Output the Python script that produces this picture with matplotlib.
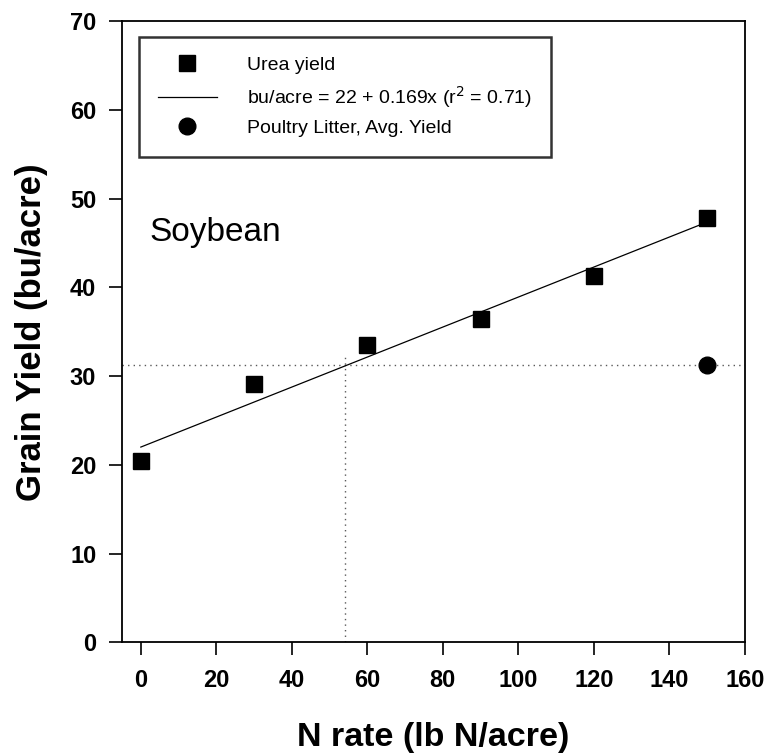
import matplotlib.pyplot as plt
import numpy as np

# dados
n_rate = [0, 30, 60, 90, 120, 150]
urea_yield = [20.4, 29.1, 33.5, 36.4, 41.3, 47.8]
litter_rate = [150]
litter_yield = [31.3]
a, b = 22, 0.169
equiv_rate = 54

plt.rcParams['font.family'] = ['Liberation Sans', 'DejaVu Sans']

fig = plt.figure(figsize=(7.67, 7.53), dpi=100)
ax = fig.add_axes([0.159, 0.147, 0.812, 0.825])

# linhas de referência pontilhadas
ax.axhline(litter_yield[0], color='0.35', lw=1, ls=(0, (1, 3)), zorder=1)
ax.plot([equiv_rate, equiv_rate], [0, litter_yield[0] + 0.8], color='0.35', lw=1, ls=(0, (1, 3)), zorder=1)

# regressão
xr = np.array([n_rate[0], n_rate[-1]])
ax.plot(n_rate, urea_yield, 's', color='black', ms=11, label='Urea yield', zorder=3)
ax.plot(xr, a + b * xr, '-', color='black', lw=0.9, label='bu/acre = 22 + 0.169x (r$^2$ = 0.71)', zorder=2)
ax.plot(litter_rate, litter_yield, 'o', color='black', ms=12, label='Poultry Litter, Avg. Yield', zorder=3)

ax.text(2.3, 46.2, 'Soybean', fontsize=24, va='center', ha='left')

ax.set_xlim(-5, 160)
ax.set_ylim(0, 70)
ax.set_xticks(np.arange(0, 161, 20))
ax.set_yticks(np.arange(0, 71, 10))
ax.tick_params(direction='out', length=9.5, width=1.2)
ax.tick_params(axis='x', pad=10)
ax.tick_params(axis='y', pad=9)
for lab in ax.get_xticklabels() + ax.get_yticklabels():
    lab.set_fontweight('bold')
    lab.set_fontsize(17)
for s in ax.spines.values():
    s.set_linewidth(1.3)

ax.set_xlabel('N rate (lb N/acre)', fontsize=24.5, fontweight='bold', labelpad=21)
ax.set_ylabel('Grain Yield (bu/acre)', fontsize=25, fontweight='bold', labelpad=16)

leg = ax.legend(loc='upper left', bbox_to_anchor=(0.027, 0.974), borderaxespad=0,
                fontsize=14, frameon=True, fancybox=False, edgecolor='black',
                handlelength=3, labelspacing=0.5, borderpad=1.0, handletextpad=1.55)
leg.get_frame().set_linewidth(1.8)

fig.savefig('out.png', dpi=100)
